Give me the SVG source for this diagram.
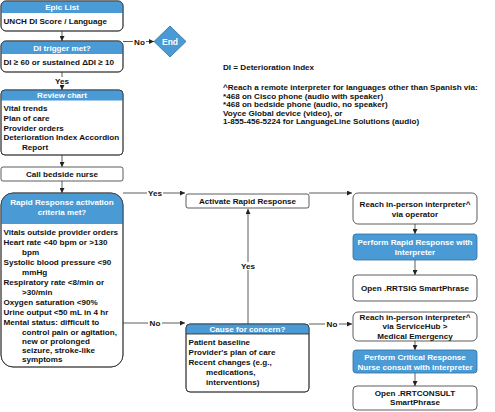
<svg xmlns="http://www.w3.org/2000/svg" width="495" height="412" viewBox="0 0 495 412">
<defs>
<style>
text{font-family:"Liberation Sans",Arial,sans-serif;font-weight:bold;font-size:8.1px;fill:#111}
.w{fill:#fff}
.c{text-anchor:middle}
.box{fill:#fff;stroke:#333;stroke-width:0.8}
.hdr{fill:#4a9ad6}
.bbox{fill:#4a9ad6;stroke:#2f6f9f;stroke-width:0.8}
.ln{fill:none;stroke:#333;stroke-width:0.8}
.lbg{fill:#fff}
</style>
<marker id="ah" viewBox="0 0 6 6" refX="6" refY="3" markerWidth="5" markerHeight="5" orient="auto" markerUnits="userSpaceOnUse">
<path d="M0,0 L6,3 L0,6 Z" fill="#222"/>
</marker>
</defs>
<rect width="495" height="412" fill="#fff"/>

<g id="connectors">
<path class="ln" d="M62,31 V41" marker-end="url(#ah)"/>
<path class="ln" d="M123,41.5 H154" marker-end="url(#ah)"/>
<rect class="lbg" x="133" y="37" width="13" height="9"/>
<text x="139.5" y="44.5" class="c">No</text>
<path class="ln" d="M62,72 V90" marker-end="url(#ah)"/>
<rect class="lbg" x="54" y="77" width="16" height="8"/>
<text x="62" y="84" class="c">Yes</text>
<path class="ln" d="M62,155 V167" marker-end="url(#ah)"/>
<path class="ln" d="M62,181 V193" marker-end="url(#ah)"/>
<path class="ln" d="M123,193 H185" marker-end="url(#ah)"/>
<rect class="lbg" x="147" y="189" width="16" height="8"/>
<text x="155" y="196" class="c">Yes</text>
<path class="ln" d="M309,193 H352" marker-end="url(#ah)"/>
<path class="ln" d="M123,323 H185" marker-end="url(#ah)"/>
<rect class="lbg" x="148" y="319" width="14" height="8"/>
<text x="155" y="326" class="c">No</text>
<path class="ln" d="M248,324 V209" marker-end="url(#ah)"/>
<rect class="lbg" x="240" y="262" width="16" height="8"/>
<text x="248" y="269" class="c">Yes</text>
<path class="ln" d="M309,324 H352" marker-end="url(#ah)"/>
<rect class="lbg" x="325" y="320" width="14" height="8"/>
<text x="332" y="327" class="c">No</text>
<path class="ln" d="M415,224 V234" marker-end="url(#ah)"/>
<path class="ln" d="M415,260 V275" marker-end="url(#ah)"/>
<path class="ln" d="M415,341 V350" marker-end="url(#ah)"/>
<path class="ln" d="M415,373 V386" marker-end="url(#ah)"/>
</g>

<g id="epic-list">
<rect class="box" x="1" y="1" width="122" height="30" rx="5"/>
<path class="hdr" d="M1,13 V6 A5,5 0 0 1 6,1 H118 A5,5 0 0 1 123,6 V13 Z"/>
<rect x="1" y="1" width="122" height="30" rx="5" fill="none" stroke="#333" stroke-width="0.8"/>
<text x="62" y="10" class="c w">Epic List</text>
<text x="3.5" y="24">UNCH DI Score / Language</text>
</g>

<g id="di-trigger">
<rect class="box" x="1" y="41" width="122" height="31" rx="5"/>
<path class="hdr" d="M1,54 V46 A5,5 0 0 1 6,41 H118 A5,5 0 0 1 123,46 V54 Z"/>
<rect x="1" y="41" width="122" height="31" rx="5" fill="none" stroke="#333" stroke-width="0.8"/>
<text x="62" y="51" class="c w">DI trigger met?</text>
<text x="3.5" y="65">DI ≥ 60 or sustained ΔDI ≥ 10</text>
</g>

<g id="end">
<polygon points="170,26 186,41.5 170,57 154,41.5" fill="#4a9ad6" stroke="#2f6f9f" stroke-width="0.8"/>
<text x="170" y="44.5" class="c w" style="font-size:8.5px">End</text>
</g>

<g id="review-chart">
<rect class="box" x="1" y="90" width="122" height="65" rx="4"/>
<path class="hdr" d="M1,100.5 V94 A4,4 0 0 1 5,90 H119 A4,4 0 0 1 123,94 V100.5 Z"/>
<rect x="1" y="90" width="122" height="65" rx="4" fill="none" stroke="#333" stroke-width="0.8"/>
<text x="62" y="98" class="c w">Review chart</text>
<text x="3.5" y="111">Vital trends</text>
<text x="3.5" y="121">Plan of care</text>
<text x="3.5" y="130.5">Provider orders</text>
<text x="3.5" y="140">Deterioration Index Accordion</text>
<text x="22" y="150">Report</text>
</g>

<g id="call-nurse">
<rect class="box" x="1" y="167" width="122" height="14" rx="2"/>
<text x="62" y="177" class="c">Call bedside nurse</text>
</g>

<g id="rapid-criteria">
<rect class="box" x="1" y="193" width="122" height="174" rx="12"/>
<path class="hdr" d="M1,224 V205 A12,12 0 0 1 13,193 H111 A12,12 0 0 1 123,205 V224 Z"/>
<rect x="1" y="193" width="122" height="174" rx="12" fill="none" stroke="#333" stroke-width="0.8"/>
<text x="62" y="205" class="c w">Rapid Response activation</text>
<text x="62" y="215" class="c w">criteria met?</text>
<text x="3.5" y="235">Vitals outside provider orders</text>
<text x="3.5" y="245">Heart rate &lt;40 bpm or &gt;130</text>
<text x="22" y="255">bpm</text>
<text x="3.5" y="265">Systolic blood pressure &lt;90</text>
<text x="22" y="274.5">mmHg</text>
<text x="3.5" y="284.5">Respiratory rate &lt;8/min or</text>
<text x="22" y="294.5">&gt;30/min</text>
<text x="3.5" y="305">Oxygen saturation &lt;90%</text>
<text x="3.5" y="315">Urine output &lt;50 mL in 4 hr</text>
<text x="3.5" y="324.5">Mental status: difficult to</text>
<text x="22" y="334.5">control pain or agitation,</text>
<text x="22" y="343.5">new or prolonged</text>
<text x="22" y="352.5">seizure, stroke-like</text>
<text x="22" y="362">symptoms</text>
</g>

<g id="activate-rr">
<rect class="box" x="186" y="194" width="123" height="14" rx="2"/>
<text x="247.5" y="204" class="c">Activate Rapid Response</text>
</g>

<g id="cause-concern">
<rect class="box" x="186" y="324" width="123" height="68" rx="4"/>
<path class="hdr" d="M186,334 V328 A4,4 0 0 1 190,324 H305 A4,4 0 0 1 309,328 V334 Z"/>
<line x1="186" y1="334" x2="309" y2="334" stroke="#222" stroke-width="0.8"/>
<rect x="186" y="324" width="123" height="68" rx="4" fill="none" stroke="#333" stroke-width="0.8"/>
<text x="247.5" y="332" class="c w">Cause for concern?</text>
<text x="188.5" y="345">Patient baseline</text>
<text x="188.5" y="355">Provider's plan of care</text>
<text x="188.5" y="365">Recent changes (e.g.,</text>
<text x="206" y="375">medications,</text>
<text x="206" y="385">interventions)</text>
</g>

<g id="reach-operator">
<rect class="box" x="353" y="193" width="124" height="31" rx="5"/>
<text x="415" y="207" class="c">Reach in-person interpreter^</text>
<text x="415" y="216.5" class="c">via operator</text>
</g>

<g id="perform-rr">
<rect class="bbox" x="353" y="234" width="124" height="26" rx="3"/>
<text x="415" y="245" class="c w">Perform Rapid Response with</text>
<text x="415" y="254.5" class="c w">Interpreter</text>
</g>

<g id="open-rrtsig">
<rect class="box" x="353" y="275" width="124" height="26" rx="4"/>
<text x="415" y="291" class="c">Open .RRTSIG SmartPhrase</text>
</g>

<g id="reach-servicehub">
<rect class="box" x="353" y="312" width="124" height="29" rx="5"/>
<text x="415" y="319.5" class="c">Reach in-person interpreter^</text>
<text x="415" y="329" class="c">via ServiceHub &gt;</text>
<text x="415" y="338.5" class="c">Medical Emergency</text>
</g>

<g id="perform-crn">
<rect class="bbox" x="353" y="350" width="124" height="23" rx="3"/>
<text x="415" y="360" class="c w">Perform Critical Response</text>
<text x="415" y="370" class="c w">Nurse consult with interpreter</text>
</g>

<g id="open-rrtconsult">
<rect class="box" x="353" y="386" width="124" height="24" rx="4"/>
<text x="415" y="395.5" class="c">Open .RRTCONSULT</text>
<text x="415" y="405" class="c">SmartPhrase</text>
</g>

<g id="notes">
<text x="223" y="70">DI = Deterioration Index</text>
<text x="223" y="90">^Reach a remote interpreter for languages other than Spanish via:</text>
<text x="223" y="98.5">*468 on Cisco phone (audio with speaker)</text>
<text x="223" y="107">*468 on bedside phone (audio, no speaker)</text>
<text x="223" y="115.5">Voyce Global device (video), or</text>
<text x="223" y="124">1-855-456-5224 for LanguageLine Solutions (audio)</text>
</g>
</svg>
